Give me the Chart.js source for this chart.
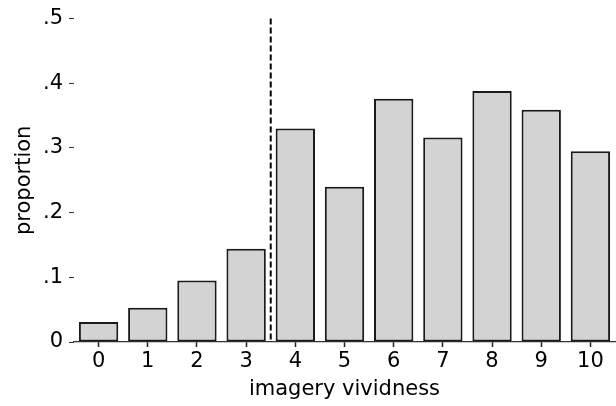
<!DOCTYPE html>
<html>
<head>
<meta charset="utf-8">
<script src="https://cdn.jsdelivr.net/npm/chart.js@4/dist/chart.umd.min.js"></script>
<style>
  body { margin: 0; background: #fff; }
</style>
</head>
<body>
<canvas id="myChart" width="616" height="406"></canvas>
<script>
'use strict';

const vividness = ['0', '1', '2', '3', '4', '5', '6', '7', '8', '9', '10'];
const proportion = [0.031, 0.053, 0.095, 0.144, 0.330, 0.240, 0.376, 0.316, 0.388, 0.359, 0.295];
const yTicks = [0, 0.1, 0.2, 0.3, 0.4, 0.5];
const cutoff = 3.5;

const fontFamily = '"DejaVu Sans", sans-serif';

// dashed vertical line between 3 and 4
const cutoffLine = {
  id: 'cutoffLine',
  afterDatasetsDraw(chart) {
    const x = chart.scales.x;
    const y = chart.scales.y;
    const lo = Math.floor(cutoff);
    const px = (x.getPixelForValue(lo) + x.getPixelForValue(lo + 1)) / 2;
    const ctx = chart.ctx;
    ctx.save();
    ctx.strokeStyle = '#000';
    ctx.lineWidth = 2;
    ctx.setLineDash([6, 3]);
    ctx.beginPath();
    ctx.moveTo(px, y.getPixelForValue(yTicks[yTicks.length - 1]));
    ctx.lineTo(px, y.getPixelForValue(0));
    ctx.stroke();
    ctx.restore();
  }
};

let ctx = document.getElementById('myChart').getContext('2d');
let chart = new Chart(ctx, {
  type: 'bar',
  data: {
    labels: vividness,
    datasets: [{
      label: 'proportion',
      data: proportion,
      backgroundColor: '#d3d3d3',
      borderColor: '#1a1a1a',
      borderWidth: 2,
      borderSkipped: false,
      barPercentage: 0.8,
      categoryPercentage: 1.0
    }]
  },
  options: {
    responsive: false,
    animation: false,
    layout: { padding: { top: 18, right: 1, left: 0, bottom: 4 } },
    plugins: {
      legend: { display: false },
      tooltip: { enabled: false }
    },
    scales: {
      x: {
        afterFit(scale) { scale.height = 60; },
        grid: {
          display: true, offset: false, drawOnChartArea: false, drawTicks: true,
          tickLength: 5, tickColor: '#222', tickWidth: 1.5, color: '#333'
        },
        border: { display: true, color: '#333', width: 1.2 },
        ticks: { color: '#000', font: { family: fontFamily, size: 21 }, padding: 2, maxRotation: 0 },
        title: { display: true, text: 'imagery vividness', color: '#000', font: { family: fontFamily, size: 21 }, padding: { top: 0, bottom: 0 } }
      },
      y: {
        min: 0,
        max: 0.5,
        afterFit(scale) { scale.width = 74; },
        afterBuildTicks(scale) { scale.ticks = yTicks.map(v => ({ value: v })); },
        grid: { display: true, drawOnChartArea: false, drawTicks: true, tickLength: 5, tickColor: '#333', color: '#333' },
        border: { display: false },
        ticks: {
          color: '#000',
          font: { family: fontFamily, size: 21 },
          padding: 6,
          callback: v => v === 0 ? '0' : v.toFixed(1).replace(/^0/, '')
        },
        title: { display: true, text: 'proportion', color: '#000', font: { family: fontFamily, size: 21 }, padding: { top: 12, bottom: 0 } }
      }
    }
  },
  plugins: [cutoffLine]
});
</script>
</body>
</html>
